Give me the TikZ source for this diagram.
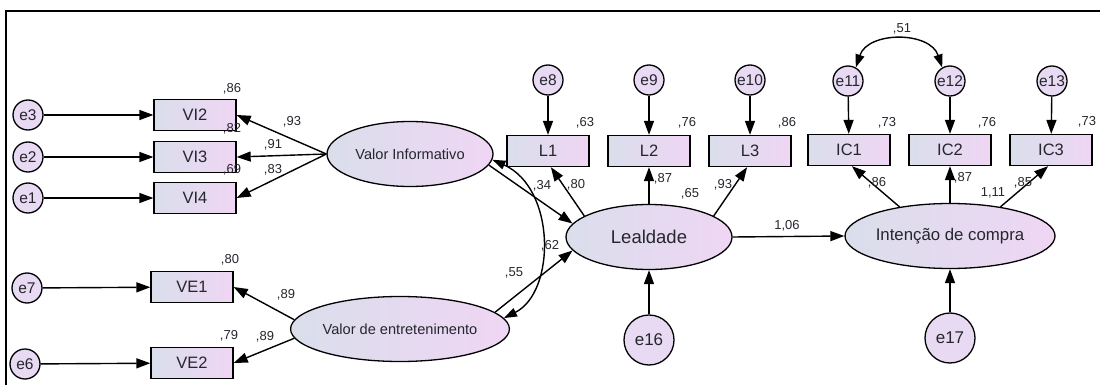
\documentclass[tikz,border=0pt]{standalone}
\usepackage{fontspec}
\setmainfont{Liberation Sans}
\usetikzlibrary{arrows.meta, shapes.geometric}

\definecolor{azulclaro}{HTML}{DADEEB}
\definecolor{rosaclaro}{HTML}{EFD6F4}
\definecolor{lilas}{HTML}{E8DAF2}
\definecolor{texto}{HTML}{26262E}

\tikzset{
  obs/.style={draw, line width=1.3pt, left color=azulclaro, right color=rosaclaro,
    minimum width=82pt, minimum height=31pt, inner sep=0pt, text=texto,
    font=\fontsize{16.5}{16.5}\selectfont},
  lat/.style={draw, ellipse, line width=1.3pt, left color=azulclaro, right color=rosaclaro,
    minimum width=166pt, minimum height=65pt, inner sep=0pt, text=texto},
  erro/.style={draw, circle, line width=1.3pt, fill=lilas, minimum size=30pt,
    inner sep=0pt, text=texto, font=\fontsize{15.5}{15.5}\selectfont},
  errogr/.style={erro, minimum size=50pt, font=\fontsize{17}{17}\selectfont},
  coef/.style={inner sep=0pt, text=texto, font=\fontsize{13}{13}\selectfont},
  seta/.style={-{Triangle[length=14pt,width=10pt]}, line width=1.4pt},
  cov/.style={{Triangle[length=13pt,width=9pt]}-{Triangle[length=13pt,width=9pt]}, line width=1.4pt}
}

\begin{document}
\begin{tikzpicture}[x=1pt,y=-1pt]
    \useasboundingbox (0,0) rectangle (1100,385);
    % moldura
    \draw[line width=1.6pt] (1100,11) -- (6,11) -- (6,385);

    % Valor informativo
    \node[erro] (e3) at (28,115) {e3};
    \node[erro] (e2) at (28,157) {e2};
    \node[erro] (e1) at (28,198) {e1};
    \node[obs] (VI2) at (195,115) {VI2};
    \node[obs] (VI3) at (195,157) {VI3};
    \node[obs] (VI4) at (195,198) {VI4};
    \node[lat, font=\fontsize{14.6}{15}\selectfont] (VInf) at (410,154) {Valor Informativo};

    % Valor de entretenimento
    \node[erro] (e7) at (27,288) {e7};
    \node[erro] (e6) at (25,364) {e6};
    \node[obs] (VE1) at (192,287) {VE1};
    \node[obs] (VE2) at (192,363) {VE2};
    \node[lat, font=\fontsize{14.6}{15}\selectfont] (VEnt) at (400,329) {Valor de entretenimento};

    % Lealdade
    \node[lat, font=\fontsize{18.5}{19}\selectfont] (Leal) at (649,237) {Lealdade};
    \node[obs] (L1) at (548,151) {L1};
    \node[obs] (L2) at (649,151) {L2};
    \node[obs] (L3) at (750,151) {L3};
    \node[erro] (e8) at (548,80) {e8};
    \node[erro] (e9) at (649,80) {e9};
    \node[erro] (e10) at (750,80) {e10};
    \node[errogr] (e16) at (649,340) {e16};

    % Intencao de compra
    \node[lat, font=\fontsize{16.8}{17}\selectfont] (Int) at (950,236) {Intenção de compra};
    \node[obs] (IC1) at (849,150) {IC1};
    \node[obs] (IC2) at (950,150) {IC2};
    \node[obs] (IC3) at (1051,150) {IC3};
    \node[erro] (e11) at (848,81) {e11};
    \node[erro] (e12) at (950,81) {e12};
    \node[erro] (e13) at (1052,81) {e13};
    \node[errogr] (e17) at (950,338) {e17};

    % setas dos erros
    \draw[seta] (e3) -- (VI2);
    \draw[seta] (e2) -- (VI3);
    \draw[seta] (e1) -- (VI4);
    \draw[seta] (e7) -- (VE1);
    \draw[seta] (e6) -- (VE2);
    \draw[seta] (e8) -- (L1);
    \draw[seta] (e9) -- (L2);
    \draw[seta] (e10) -- (L3);
    \draw[seta] (e11) -- (IC1);
    \draw[seta] (e12) -- (IC2);
    \draw[seta] (e13) -- (IC3);
    \draw[seta] (e16) -- (Leal);
    \draw[seta] (e17) -- (Int);

    % cargas
    \draw[seta] (VInf.west) -- (VI2.east);
    \draw[seta] (VInf.west) -- (VI3.east);
    \draw[seta] (VInf.west) -- (VI4.east);
    \draw[seta] (VEnt.175) -- (VE1.east);
    \draw[seta] (VEnt.185) -- (VE2.east);
    \draw[seta] (Leal.162) -- (L1.-80);
    \draw[seta] (Leal.north) -- (L2.south);
    \draw[seta] (Leal.18) -- (L3.-100);
    \draw[seta] (Int.150) -- (IC1.-80);
    \draw[seta] (Int.north) -- (IC2.south);
    \draw[seta] (Int.30) -- (IC3.-100);

    % caminhos estruturais
    \draw[seta] (VInf.-8) -- (Leal.170);
    \draw[seta] (VEnt.10) -- (Leal.190);
    \draw[seta] (Leal.east) -- (Int.west);

    % covariancias
    \draw[cov] (VInf.-4) .. controls (556,188) and (556,292) .. (VEnt.6);
    \draw[cov] (e11.60) .. controls (868,31) and (930,31) .. (e12.120);

    % coeficientes
    \node[coef] (r2VI2) at (232,89) {,86};
    \node[coef] (r2VI3) at (232,129) {,82};
    \node[coef] (r2VI4) at (232,170) {,69};
    \node[coef] (pVI2) at (292,122) {,93};
    \node[coef] (pVI3) at (273,145) {,91};
    \node[coef] (pVI4) at (273,170) {,83};
    \node[coef] (r2VE1) at (230,260) {,80};
    \node[coef] (pVE1) at (286,295) {,89};
    \node[coef] (r2VE2) at (229,336) {,79};
    \node[coef] (pVE2) at (265,337) {,89};
    \node[coef] (r2L1) at (585,123) {,63};
    \node[coef] (r2L2) at (687,123) {,76};
    \node[coef] (r2L3) at (787,123) {,86};
    \node[coef] (bVInf) at (542,186) {,34};
    \node[coef] (pL1) at (576,185) {,80};
    \node[coef] (pL2) at (663,179) {,87};
    \node[coef] (r2Leal) at (690,194) {,65};
    \node[coef] (pL3) at (723,185) {,93};
    \node[coef] (bVEnt) at (550,246) {,62};
    \node[coef] (covV) at (514,273) {,55};
    \node[coef] (bLeal) at (787,226) {1,06};
    \node[coef] (r2IC1) at (887,123) {,73};
    \node[coef] (r2IC2) at (987,123) {,76};
    \node[coef] (r2IC3) at (1087,122) {,73};
    \node[coef] (covE) at (902,29) {,51};
    \node[coef] (pIC1) at (877,183) {,86};
    \node[coef] (pIC2) at (963,178) {,87};
    \node[coef] (r2Int) at (993,193) {1,11};
    \node[coef] (pIC3) at (1023,183) {,85};
\end{tikzpicture}
\end{document}
